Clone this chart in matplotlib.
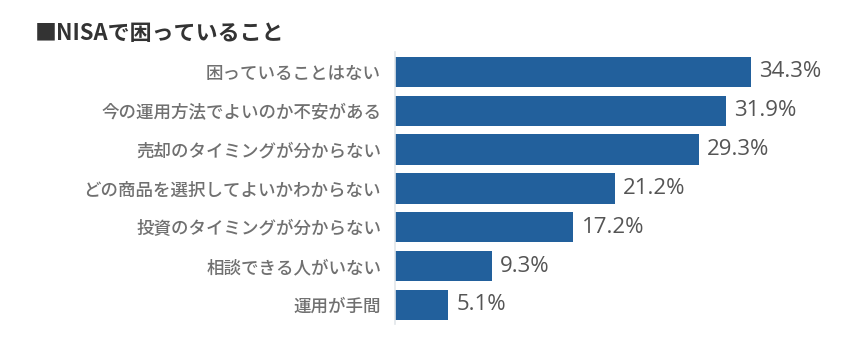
import matplotlib.pyplot as plt

plt.rcParams['font.family'] = ['Noto Sans CJK JP', 'DejaVu Sans']

# 回答項目と割合（%）
items = [
    '困っていることはない',
    '今の運用方法でよいのか不安がある',
    '売却のタイミングが分からない',
    'どの商品を選択してよいかわからない',
    '投資のタイミングが分からない',
    '相談できる人がいない',
    '運用が手間',
]
shares = [34.3, 31.9, 29.3, 21.2, 17.2, 9.3, 5.1]

bar_color = '#22609c'
label_color = '#707070'
value_color = '#555555'

fig = plt.figure(figsize=(8.67, 3.42), dpi=100)
fig.patch.set_facecolor('white')
ax = fig.add_axes([395 / 867, 0.0515, 467 / 867, 0.795])

pos = list(range(len(items)))
ax.barh(pos, shares, height=0.78, color=bar_color)
ax.set_ylim(len(items) - 0.5, -0.5)
ax.set_xlim(0, 45)

ax.set_yticks(pos)
ax.set_yticklabels(items, fontsize=12.6, color=label_color, fontweight='medium')
ax.tick_params(axis='y', length=0, pad=10)
ax.set_xticks([])

for s in ['top', 'right', 'bottom']:
    ax.spines[s].set_visible(False)
ax.spines['left'].set_color('#e2e6ea')
ax.spines['left'].set_linewidth(1.2)

for p, v in zip(pos, shares):
    ax.text(v + 0.8, p, f'{v}%', va='center', ha='left', fontsize=16,
            color=value_color, family=['Open Sans', 'DejaVu Sans'])

fig.text(35 / 867, 1 - 33 / 342, '■NISAで困っていること', fontsize=15.8,
         fontweight='bold', color='#333333', ha='left', va='center')

fig.savefig('out.png', dpi=100, facecolor='white')
